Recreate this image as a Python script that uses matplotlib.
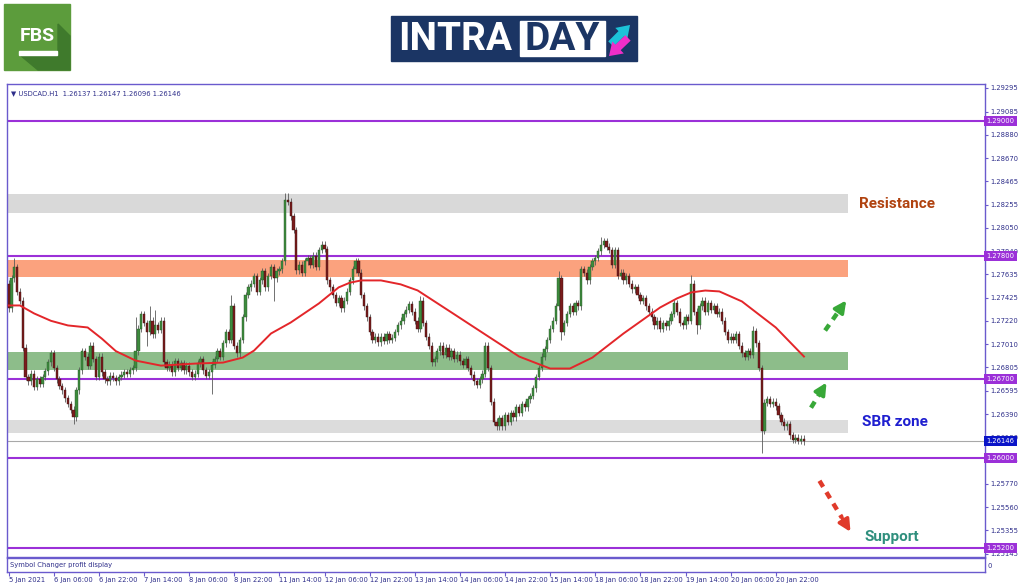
import numpy as np
import matplotlib
matplotlib.use('Agg')
from matplotlib import pyplot as plt
from matplotlib.patches import Rectangle, Polygon

# USDCAD H1, closes (bar 0 = 5 Jan 14:00)
open0 = 1.2755
closes = [
    1.2733, 1.2760, 1.2770, 1.2748, 1.2740, 1.2698, 1.2672,
    1.2668, 1.2675, 1.2663, 1.2670, 1.2666, 1.2672, 1.2677,
    1.2685, 1.2693, 1.2680,
    1.2670, 1.2664, 1.2660, 1.2653, 1.2648, 1.2643, 1.2636, 1.2660, 1.2678, 1.2695, 1.2690,
    1.2682, 1.2700, 1.2688, 1.2672, 1.2690, 1.2676,
    1.2670, 1.2668, 1.2673, 1.2671, 1.2668, 1.2672, 1.2674, 1.2676, 1.2675, 1.2678, 1.2680,
    1.2695, 1.2715, 1.2728,
    1.2720, 1.2712, 1.2722, 1.2710, 1.2718, 1.2714, 1.2722,
    1.2685,
    1.2680, 1.2683, 1.2676, 1.2686, 1.2680, 1.2684, 1.2678, 1.2682, 1.2676, 1.2672, 1.2675,
    1.2684, 1.2688, 1.2678, 1.2673, 1.2676, 1.2683,
    1.2688, 1.2695, 1.2690, 1.2702, 1.2712, 1.2705, 1.2735, 1.2700, 1.2693, 1.2705, 1.2725,
    1.2745, 1.2752,
    1.2755, 1.2762, 1.2748, 1.2758, 1.2766, 1.2752, 1.2762, 1.2770, 1.2760, 1.2766,
    1.2768, 1.2775,
    1.2830, 1.2828, 1.2815, 1.2803, 1.2767,
    1.2772, 1.2765, 1.2775, 1.2778, 1.2772, 1.2780, 1.2770, 1.2785, 1.2790, 1.2786,
    1.2758, 1.2752,
    1.2745, 1.2738, 1.2742, 1.2733, 1.2740, 1.2748,
    1.2758, 1.2768, 1.2775, 1.2765, 1.2745, 1.2735,
    1.2725, 1.2712, 1.2705, 1.2708, 1.2703,
    1.2708, 1.2704, 1.2710, 1.2705, 1.2707,
    1.2712, 1.2718, 1.2722, 1.2728, 1.2732, 1.2737, 1.2730,
    1.2722, 1.2715, 1.2740, 1.2720, 1.2708, 1.2700, 1.2685, 1.2688,
    1.2695, 1.2700, 1.2692, 1.2698, 1.2690, 1.2695, 1.2688, 1.2692, 1.2686, 1.2683, 1.2688, 1.2680,
    1.2674, 1.2668, 1.2665, 1.2670, 1.2675,
    1.2700, 1.2680, 1.2650, 1.2632, 1.2628,
    1.2635, 1.2628, 1.2638, 1.2632, 1.2640, 1.2636, 1.2645, 1.2640,
    1.2648, 1.2645, 1.2652, 1.2655, 1.2662, 1.2672, 1.2680, 1.2690,
    1.2697, 1.2705, 1.2715, 1.2722, 1.2735, 1.2760, 1.2712,
    1.2720, 1.2728, 1.2735, 1.2730, 1.2738, 1.2735,
    1.2768, 1.2765, 1.2758, 1.2770, 1.2775, 1.2778, 1.2784, 1.2790, 1.2793, 1.2788, 1.2785,
    1.2772, 1.2785, 1.2762,
    1.2765, 1.2758, 1.2762, 1.2755, 1.2750, 1.2752, 1.2745, 1.2740, 1.2742, 1.2735,
    1.2730, 1.2725, 1.2718, 1.2722, 1.2715, 1.2720, 1.2717, 1.2722,
    1.2728, 1.2738, 1.2730, 1.2720, 1.2718, 1.2725, 1.2722,
    1.2755, 1.2730, 1.2718,
    1.2735, 1.2740, 1.2730, 1.2738, 1.2732, 1.2735, 1.2728, 1.2730,
    1.2722, 1.2712, 1.2705, 1.2708, 1.2705, 1.2710, 1.2700,
    1.2693, 1.2690, 1.2695, 1.2692,
    1.2713, 1.2702, 1.2680, 1.2624,
    1.2649, 1.2652, 1.2648, 1.2650, 1.2646,
    1.2638, 1.2632, 1.2628, 1.2630,
    1.2620, 1.2616, 1.2618, 1.2615, 1.2617, 1.26146,
]
# notable wick extremes (bar index -> price)
high_marks = {2: 1.2778, 45: 1.2725, 50: 1.2735, 52: 1.2732, 79: 1.2745, 98: 1.2836,
              99: 1.2836, 146: 1.2744, 169: 1.2703, 195: 1.2766, 210: 1.2797, 242: 1.2763,
              264: 1.2717}
low_marks = {23: 1.2630, 49: 1.2700, 72: 1.2657, 94: 1.2740, 173: 1.2625, 196: 1.2705,
             244: 1.2710, 267: 1.2604}

# red moving average, read at points (bar index, price)
ma_bars = [0, 4, 9, 15, 21, 28, 33, 38, 45, 54, 66, 76, 83, 87, 93, 100, 110, 117, 121,
           125, 132, 139, 145, 157, 169, 181, 192, 199, 207, 218, 231, 237, 242, 247, 252,
           260, 272, 282]
ma_vals = [1.27357, 1.27357, 1.27286, 1.27220, 1.27179, 1.27161, 1.27062, 1.26950,
           1.26866, 1.26821, 1.26839, 1.26848, 1.26893, 1.26955, 1.27107, 1.27205,
           1.27375, 1.27518, 1.27560, 1.27580, 1.27580, 1.27545, 1.27491, 1.27295,
           1.27098, 1.26902, 1.26795, 1.26795, 1.26893, 1.27107, 1.27339, 1.27420,
           1.27473, 1.27490, 1.27482, 1.27393, 1.27161, 1.26902]

levels = [1.29000, 1.27800, 1.26700, 1.26000, 1.25200]
last_price = 1.26146
zones = {'res': (1.28179, 1.28348), 'orange': (1.27607, 1.27759),
         'green': (1.26786, 1.26938), 'sbr': (1.26223, 1.26339)}

price_ticks = [1.29295, 1.29085, 1.28880, 1.28670, 1.28465, 1.28255, 1.28050, 1.27840,
               1.27635, 1.27425, 1.27220, 1.27010, 1.26805, 1.26595, 1.26390, 1.26180,
               1.25975, 1.25770, 1.25560, 1.25355, 1.25145]
time_labels = ['5 Jan 2021', '6 Jan 06:00', '6 Jan 22:00', '7 Jan 14:00', '8 Jan 06:00',
               '8 Jan 22:00', '11 Jan 14:00', '12 Jan 06:00', '12 Jan 22:00', '13 Jan 14:00',
               '14 Jan 06:00', '14 Jan 22:00', '15 Jan 14:00', '18 Jan 06:00', '18 Jan 22:00',
               '19 Jan 14:00', '20 Jan 06:00', '20 Jan 22:00']

frame = '#6a5acd'
txtc = '#2e2e8a'
purple = '#9b30d8'

fig = plt.figure(figsize=(10.24, 5.87), dpi=100)
W, H = 1024, 587
ax = fig.add_axes([7 / W, 1 - 557 / H, 978 / W, 473 / H])
ax2 = fig.add_axes([7 / W, 1 - 572 / H, 978 / W, 14 / H], sharex=ax)

# candles
c = np.array(closes)
n = len(c)
x = np.arange(n)
o = np.r_[open0, c[:-1]]
hi = np.maximum(o, c) + 0.0003
lo = np.minimum(o, c) - 0.0003
for k, v in high_marks.items():
    hi[k] = v
for k, v in low_marks.items():
    lo[k] = v
up = c >= o
body = np.maximum(np.abs(c - o), 0.00005)
ax.vlines(x, lo, hi, color='#5a5a5a', lw=0.6, zorder=3)
ax.bar(x[up], body[up], bottom=np.minimum(o, c)[up], width=0.8, color='#3d8b3d',
       edgecolor='#2a5a2a', lw=0.3, zorder=4)
ax.bar(x[~up], body[~up], bottom=np.minimum(o, c)[~up], width=0.8, color='#7a1c1c',
       edgecolor='#3a1010', lw=0.3, zorder=4)

ax.plot(ma_bars, ma_vals, color='#e3262a', lw=1.4, zorder=5)

# zones
zx = (848 - 7) / 978
ax.axhspan(*zones['res'], xmax=zx, color='#d9d9d9', lw=0, zorder=1)
ax.axhspan(*zones['orange'], xmax=zx, color='#fba27e', lw=0, zorder=1)
ax.axhspan(*zones['green'], xmax=zx, color='#8dbd8a', lw=0, zorder=1)
ax.axhspan(*zones['sbr'], xmax=zx, color='#dcdcdc', lw=0, zorder=1)

for lv in levels:
    ax.axhline(lv, color=purple, lw=1.5, zorder=2)
ax.axhline(last_price, color='#a8a8a8', lw=0.8, zorder=2)

ax.set_xlim(-0.6, 346.2)
ax.set_ylim(1.25116, 1.29330)
ax.yaxis.tick_right()
ax.set_yticks(price_ticks)
ax.set_yticklabels(['%.5f' % p for p in price_ticks])
ax.tick_params(axis='y', labelsize=4.9, colors=frame, labelcolor=txtc, length=2.5, pad=1.5)
ax.tick_params(axis='x', bottom=False, labelbottom=False)
for s in ax.spines.values():
    s.set_color(frame)
    s.set_linewidth(1)

ytr = ax.get_yaxis_transform()
for lv in levels:
    ax.text(1.0015, lv, '%.5f' % lv, transform=ytr, ha='left', va='center', fontsize=4.9,
            color='white', zorder=10, clip_on=False,
            bbox=dict(boxstyle='square,pad=0.3', fc=purple, ec='none'))
ax.text(1.0015, last_price, '%.5f' % last_price, transform=ytr, ha='left', va='center',
        fontsize=4.9, color='white', zorder=10, clip_on=False,
        bbox=dict(boxstyle='square,pad=0.3', fc='#0a14c8', ec='none'))

ax.text(0.004, 0.987, '\u25bc USDCAD.H1  1.26137 1.26147 1.26096 1.26146', transform=ax.transAxes,
        ha='left', va='top', fontsize=4.9, color=txtc)

# annotations
ax.text(301.4, 1.28262, 'Resistance', fontsize=11, fontweight='bold', family='Roboto',
        color='#b0420f', va='center', ha='left')
ax.text(302.5, 1.26315, 'SBR zone', fontsize=11, fontweight='bold', family='Roboto',
        color='#1f1fd0', va='center', ha='left')
ax.text(303.5, 1.25290, 'Support', fontsize=11, fontweight='bold', family='Roboto',
        color='#2f8f7d', va='center', ha='left')

arrows = [((289.5, 1.27134), (297.0, 1.27402), '#38a838'),
          ((284.5, 1.26446), (290.0, 1.26670), '#38a838'),
          ((287.5, 1.25795), (298.5, 1.25340), '#e03a2a')]
for (x0, y0), (x1, y1), col in arrows:
    xm = x0 + (x1 - x0) * 0.72
    ym = y0 + (y1 - y0) * 0.72
    ax.plot([x0, xm], [y0, ym], color=col, lw=3.2, ls=(0, (1.6, 1.4)), solid_capstyle='butt',
            zorder=6)
    ax.annotate('', xy=(x1, y1), xytext=(xm, ym),
                arrowprops=dict(arrowstyle='-|>,head_width=0.35,head_length=0.7',
                                color=col, lw=2.5, shrinkA=0, shrinkB=0), zorder=6)

# sub-window
ax2.set_ylim(-1, 1)
ax2.yaxis.tick_right()
ax2.set_yticks([0])
ax2.set_yticklabels(['0'])
ax2.tick_params(axis='y', labelsize=4.9, colors=frame, labelcolor=txtc, length=0, pad=2)
ax2.set_xticks(np.arange(len(time_labels)) * 16)
ax2.set_xticklabels(time_labels, ha='left')
ax2.tick_params(axis='x', labelsize=4.9, colors=frame, labelcolor=txtc, length=3, pad=0.5)
for s in ax2.spines.values():
    s.set_color(frame)
    s.set_linewidth(1)
ax2.text(0.003, 0.5, 'Symbol Changer profit display', transform=ax2.transAxes, ha='left',
         va='center', fontsize=4.9, color=txtc)

# header logos (figure pixel space)
hd = fig.add_axes([0, 0, 1, 1], zorder=-1)
hd.set_xlim(0, W)
hd.set_ylim(H, 0)
hd.axis('off')
hd.add_patch(Rectangle((4, 4), 66, 66, color='#5c9c3c'))
hd.add_patch(Polygon([(58, 24), (70, 36), (70, 70), (38, 70), (20, 55), (58, 55)],
                     closed=True, color='#3f7a2c'))
hd.text(37, 36, 'FBS', ha='center', va='center', fontsize=14, fontweight='bold',
        family='Roboto', color='white')
hd.add_patch(Rectangle((19, 51), 38, 3.5, color='white'))

hd.add_patch(Rectangle((391, 16), 246, 45, color='#1b3564'))
hd.add_patch(Rectangle((520, 21), 85, 35, color='white'))
hd.text(398, 39, 'INTRA', ha='left', va='center', fontsize=28, fontweight='bold',
        family='Roboto', color='white')
hd.text(562, 39, 'DAY', ha='center', va='center', fontsize=28, fontweight='bold',
        family='Roboto', color='#1b3564')
hd.annotate('', xy=(632, 23), xytext=(609, 46),
            arrowprops=dict(arrowstyle='simple,head_width=1.2,head_length=0.9,tail_width=0.55',
                            color='#1cc2d8', lw=0))
hd.annotate('', xy=(607, 58), xytext=(630, 36),
            arrowprops=dict(arrowstyle='simple,head_width=1.2,head_length=0.9,tail_width=0.55',
                            color='#f02ec8', lw=0))

fig.savefig('out.png', dpi=100, facecolor='white')
